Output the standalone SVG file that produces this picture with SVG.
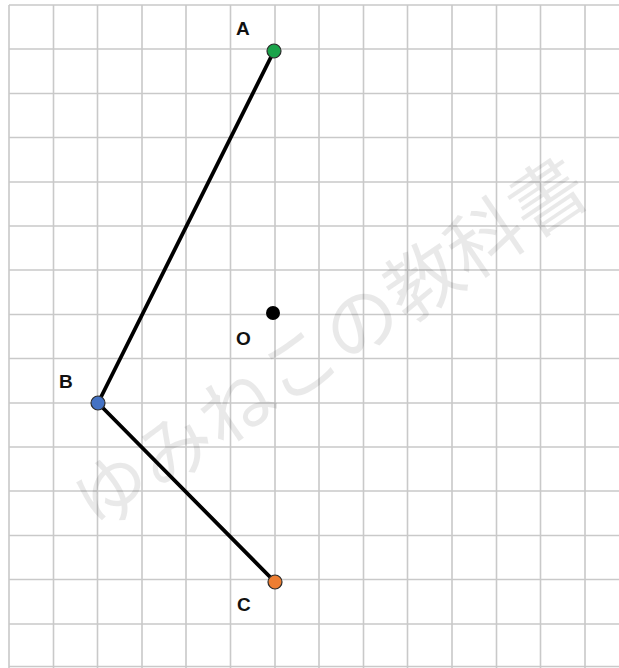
<svg xmlns="http://www.w3.org/2000/svg" width="619" height="668" viewBox="0 0 619 668">
<style>
.grid{stroke:#c9c9c9;stroke-width:1.6;fill:none}
.seg{stroke:#000;stroke-width:3.8;stroke-linecap:round;fill:none}
.pt{stroke:#2b2b2b;stroke-width:1.2}
.lbl{font-family:"Liberation Sans",Arial,sans-serif;font-weight:bold;font-size:19px;fill:#111}
.wm{font-family:"Noto Sans CJK JP","Noto Sans CJK SC",sans-serif;font-size:75px;fill:#000;fill-opacity:0.085}
</style>
<rect width="619" height="668" fill="#fff"/>
<g id="grid">
<path class="grid" d="M9 5V668M53.5 5V668M97.5 5V668M142 5V668M186 5V668M230.5 5V668M275 5V668M319 5V668M363.5 5V668M407.5 5V668M452 5V668M496.5 5V668M540.5 5V668M585 5V668"/>
<path class="grid" d="M9 5H619M9 49H619M9 93.5H619M9 137.5H619M9 182H619M9 226H619M9 270H619M9 314.5H619M9 358.5H619M9 403H619M9 447H619M9 491H619M9 535.5H619M9 579.5H619M9 624H619M9 666.5H619"/>
</g>
<g id="connectors">
<line class="seg" x1="274" y1="51" x2="98" y2="403"/>
<line class="seg" x1="98" y1="403" x2="275" y2="582"/>
</g>
<g id="A"><circle class="pt" cx="274" cy="51" r="7" fill="#1aa34a"/><text class="lbl" x="236" y="35">A</text></g>
<g id="B"><circle class="pt" cx="98" cy="403" r="7" fill="#4472c4"/><text class="lbl" x="59" y="388">B</text></g>
<g id="C"><circle class="pt" cx="275" cy="582" r="7" fill="#ed7d31"/><text class="lbl" x="237" y="611">C</text></g>
<g id="O"><circle cx="273" cy="313" r="7" fill="#000"/><text class="lbl" x="236" y="345">O</text></g>
<text class="wm" x="0" y="0" text-anchor="middle" transform="translate(345 366) rotate(-34)">ゆみねこの教科書</text>
</svg>
